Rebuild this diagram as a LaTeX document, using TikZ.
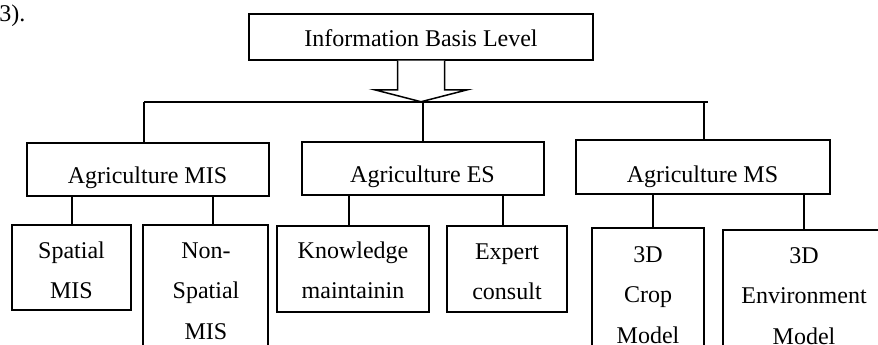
\documentclass[tikz,border=0pt]{standalone}
\usepackage{fontspec}
\setmainfont{Liberation Serif}
\usetikzlibrary{fit}
\tikzset{
  box/.style={draw, line width=1.5pt, inner sep=0pt},
  conn/.style={line width=1.5pt},
  txt/.style={inner sep=0pt, anchor=base, font=\fontsize{24}{40.5}\selectfont},
}
\newcommand{\stk}[1]{\begin{tabular}[t]{@{}c@{}}#1\end{tabular}}
\begin{document}
\begin{tikzpicture}[x=1pt, y=-1pt]
\useasboundingbox (0,0) rectangle (878,345);
\clip (0,0) rectangle (878,345);
% boxes
\node[box, fit={(249,14) (593,60)}] (top) {};
\node[box, fit={(27,143) (269,196)}] (mis) {};
\node[box, fit={(302,142) (544,195)}] (es) {};
\node[box, fit={(576,140) (830,194)}] (ms) {};
\node[box, fit={(12,225) (131,310)}] (spatial) {};
\node[box, fit={(143,225) (268,400)}] (nonsp) {};
\node[box, fit={(277,226) (429,312)}] (know) {};
\node[box, fit={(447,226) (567,312)}] (expert) {};
\node[box, fit={(592,228) (704,400)}] (crop) {};
\node[box, fit={(723,230) (885,400)}] (env) {};
% texts
\node[txt, anchor=base east] (ref) at (25.5,22) {3).};
\node[txt] (ttop) at (421,47) {Information Basis Level};
\node[txt] (tmis) at (147.5,183) {Agriculture MIS};
\node[txt] (tes) at (422.5,182) {Agriculture ES};
\node[txt] (tms) at (702.5,182) {Agriculture MS};
\node[txt] (tspatial) at (71.5,258) {\stk{Spatial\\MIS}};
\node[txt] (tnonsp) at (206,258) {\stk{Non-\\Spatial\\MIS}};
\node[txt] (tknow) at (353,258) {\stk{Knowledge\\maintainin}};
\node[txt] (texpert) at (507,259) {\stk{Expert\\consult}};
\node[txt] (tcrop) at (648,262) {\stk{3D\\Crop\\Model}};
\node[txt] (tenv) at (804,263) {\stk{3D\\Environment\\Model}};
% hollow arrow
\draw[conn, line join=miter, fill=white, shift={(top.south)}]
  (-23.5,0) -- (-23.5,29) -- (-46.5,29) -- (0,41) -- (46.5,29) -- (23.5,29) -- (23.5,0);
% bus
\coordinate (busL) at (144,102);
\coordinate (busR) at (708,102);
\draw[conn] (busL) -- (busR);
\draw[conn] (busL) -- (busL |- mis.north);
\draw[conn] (es.north |- busL) -- (es.north);
\draw[conn] ([xshift=1pt]ms.north |- busL) -- ([xshift=1pt]ms.north);
% second level connectors
\draw[conn] ([xshift=0.5pt]spatial.north) -- ([xshift=0.5pt]spatial.north |- mis.south);
\draw[conn] ([xshift=7.5pt]nonsp.north) -- ([xshift=7.5pt]nonsp.north |- mis.south);
\draw[conn] ([xshift=-4pt]know.north) -- ([xshift=-4pt]know.north |- es.south);
\draw[conn] ([xshift=-4pt]expert.north) -- ([xshift=-4pt]expert.north |- es.south);
\draw[conn] ([xshift=5pt]crop.north) -- ([xshift=5pt]crop.north |- ms.south);
\draw[conn] (env.north) -- (env.north |- ms.south);
\end{tikzpicture}
\end{document}
